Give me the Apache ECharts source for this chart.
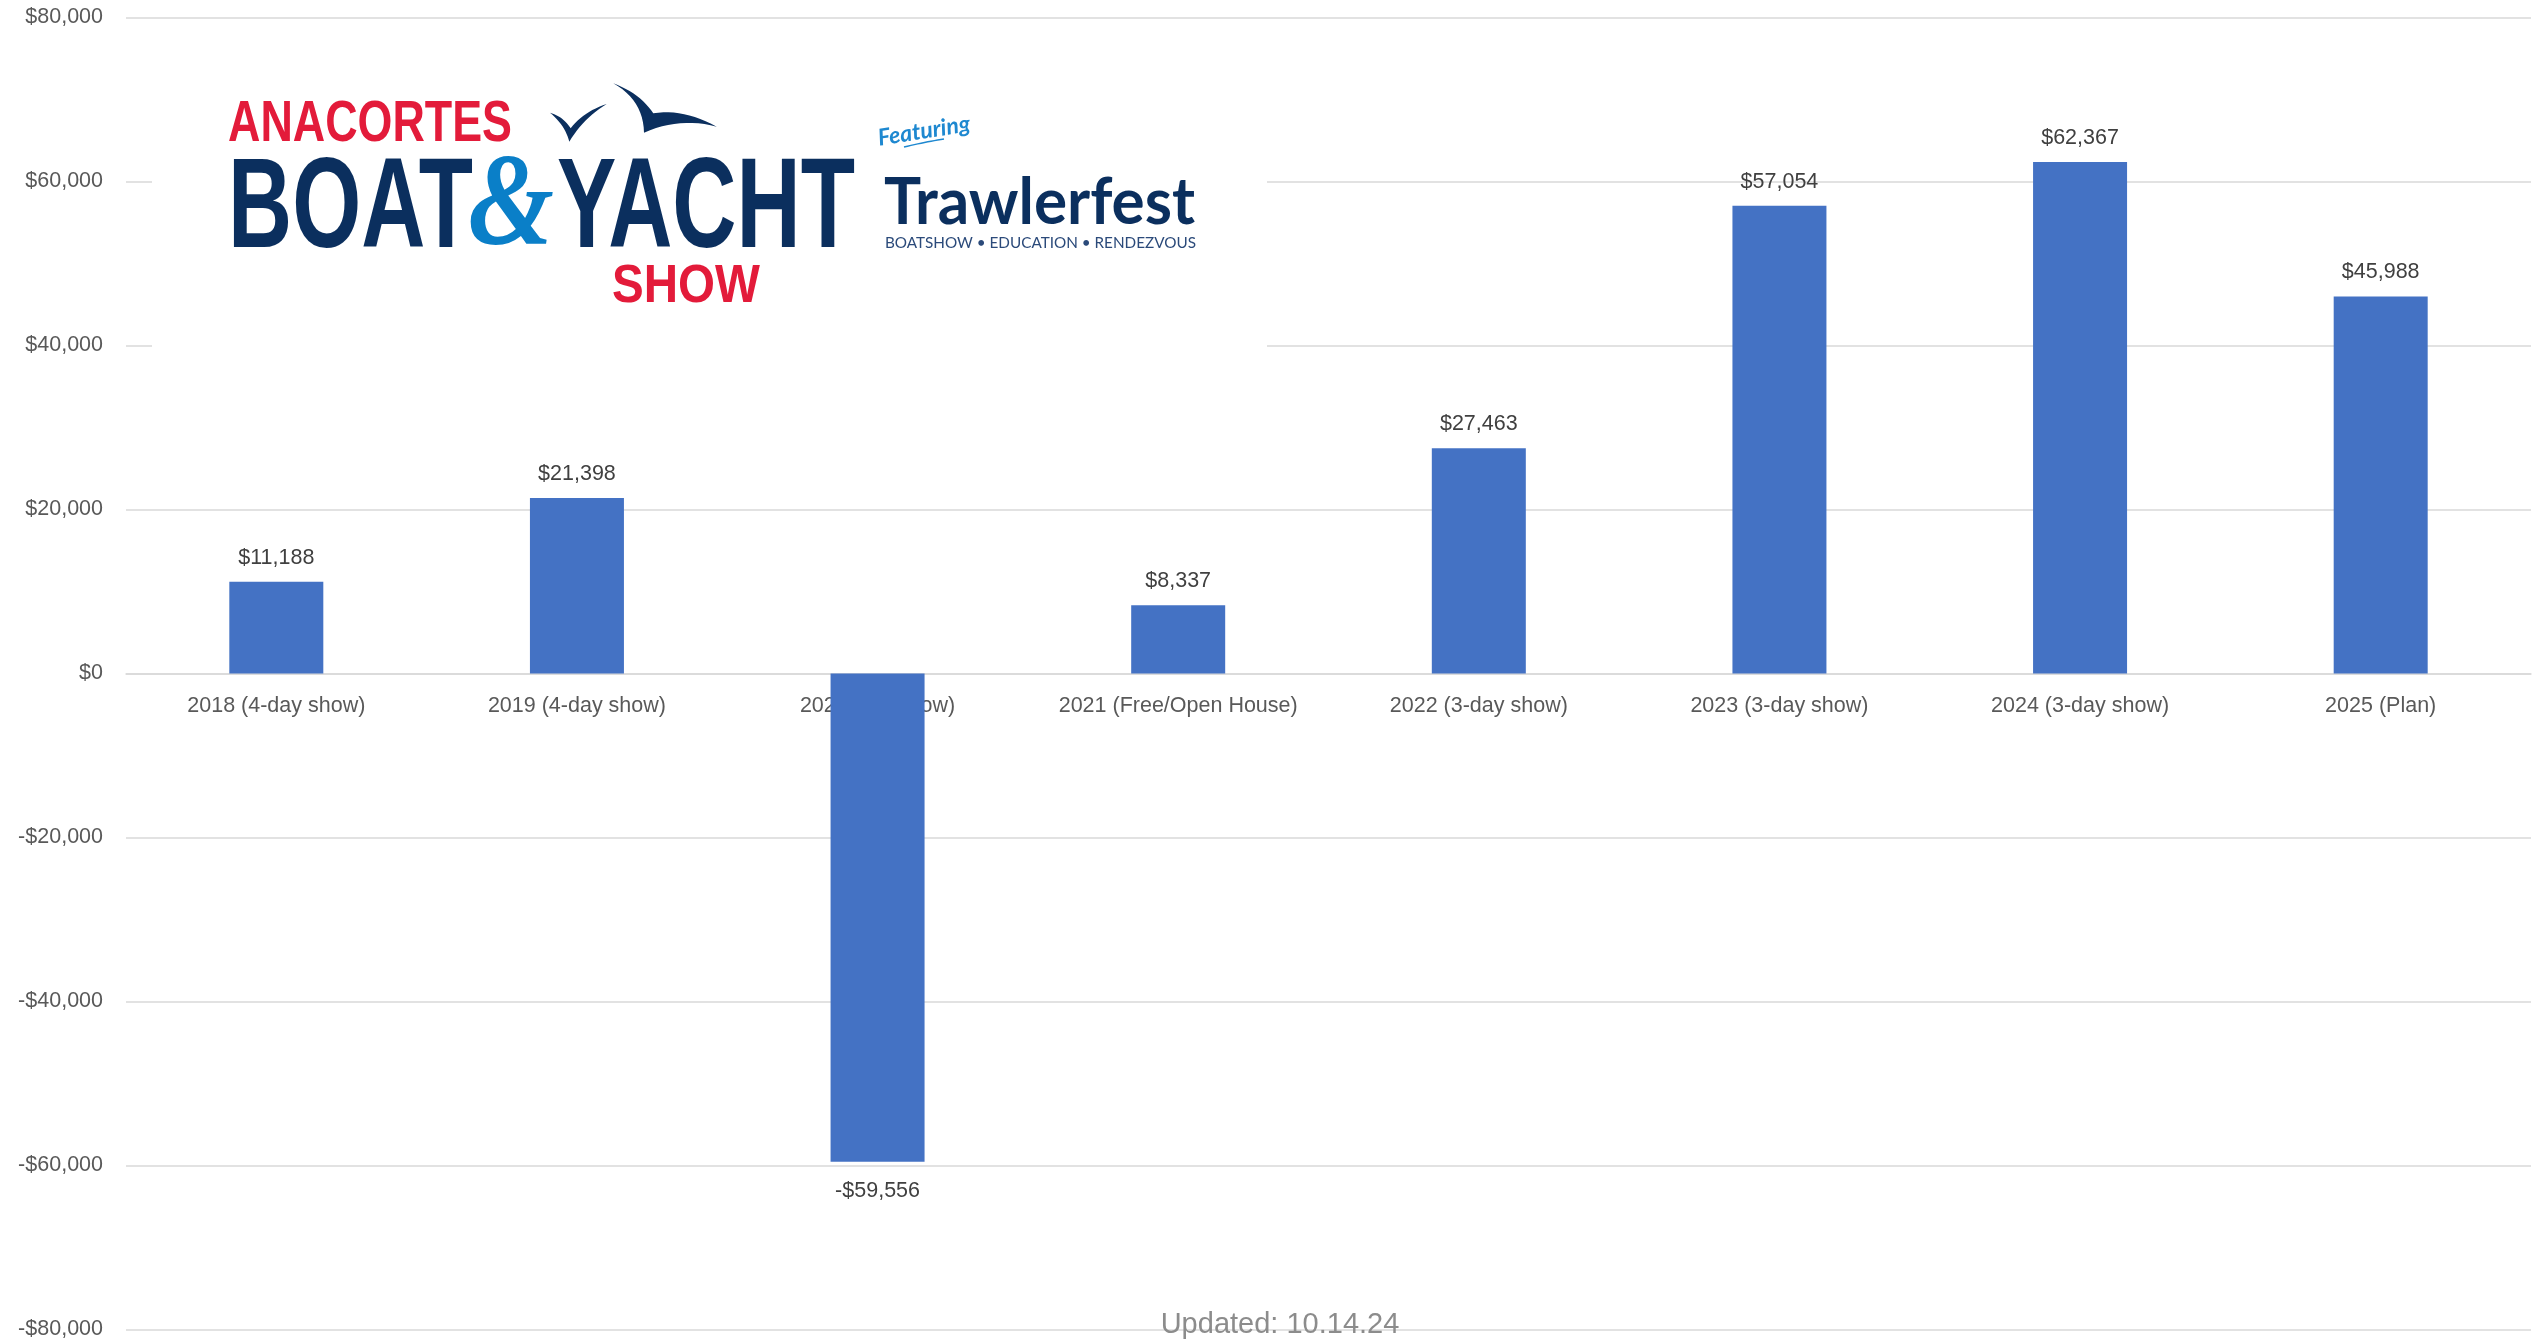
<!DOCTYPE html>
<html><head><meta charset="utf-8">
<script src="https://cdn.jsdelivr.net/npm/echarts@6/dist/echarts.min.js"></script>
<style>html,body{margin:0;padding:0;background:#fff}#chart{width:2539px;height:1341px}</style>
</head><body><div id="chart"></div>
<script>
// ---- data ----
const categories = ['2018 (4-day show)', '2019 (4-day show)', '2020 (No Show)', '2021 (Free/Open House)', '2022 (3-day show)', '2023 (3-day show)', '2024 (3-day show)', '2025 (Plan)'];
const netIncome = [11188, 21398, -59556, 8337, 27463, 57054, 62367, 45988];
const yMin = -80000;
const yMax = 80000;
const yStep = 20000;
const updatedNote = 'Updated: 10.14.24';
const logoWords = ['ANACORTES', 'BOAT', '&', 'YACHT', 'SHOW'];
const featuring = 'Featuring';
const trawlerfest = 'Trawlerfest';
const tagline = 'BOATSHOW \u2022 EDUCATION \u2022 RENDEZVOUS';

// ---- layout ----
const W = 2539, H = 1341;
const GRID = { left: 126, right: 8, top: 17.5, bottom: 11.5 };
const plotH = H - GRID.top - GRID.bottom;
// move the category axis (and its labels) up to the zero line
const zeroOffset = -plotH * (0 - yMin) / (yMax - yMin);

// ---- helpers ----
const FONT = '"Liberation Sans", Arial, sans-serif';
const money = v => (v < 0 ? '-' : '') + '$' + Math.abs(v).toLocaleString('en-US');
const cvs = document.createElement('canvas').getContext('2d');
function measure(text, weight, size, family, style) {
  cvs.font = (style || 'normal') + ' ' + weight + ' ' + size + 'px ' + family;
  return cvs.measureText(text).width;
}
function fitText(text, left, width, cy, size, weight, family, fill, style) {
  const w = measure(text, weight, size, family, style);
  return {
    type: 'text', x: left, y: cy + size * 0.03, scaleX: width / w, z: 20,
    style: { text, fontSize: size, fontWeight: weight, fontFamily: family, fontStyle: style || 'normal',
      fill, align: 'left', verticalAlign: 'middle' }
  };
}
function quadShape(start, segs) {
  const pts = [start];
  let p0 = start;
  segs.forEach(([c, p1]) => {
    for (let i = 1; i <= 12; i++) {
      const t = i / 12, u = 1 - t;
      pts.push([u * u * p0[0] + 2 * u * t * c[0] + t * t * p1[0], u * u * p0[1] + 2 * u * t * c[1] + t * t * p1[1]]);
    }
    p0 = p1;
  });
  return pts;
}

const RED = '#E31B3A', NAVY = '#0B2F5E', BLUE = '#0A7FC8';
const LOGOFONT = '"Liberation Sans Narrow", "Liberation Sans", Arial, sans-serif';

const smallBird = quadShape([550, 112.7], [[[563.3, 116.7], [570.7, 128.3]], [[583.3, 111.7], [606.7, 104]], [[583.3, 118.3], [569.3, 141.7]], [[565, 125], [550, 112.7]]]);
const bigBird = quadShape([613.3, 83.3], [[[640, 93.3], [653.3, 113.3]], [[683.3, 108.3], [716.7, 126.7]], [[680, 116.7], [644, 132.7]], [[643.3, 100], [613.3, 83.3]]]);
const swoosh = quadShape([904, 147], [[[925, 142], [944, 139]]]);

const graphics = [
  { type: 'rect', z: 19, shape: { x: 152, y: 30, width: 1115, height: 330 }, style: { fill: '#ffffff' } },
  fitText(logoWords[0], 228, 284, 124, 56.7, 'bold', LOGOFONT, RED),
  fitText(logoWords[1], 228, 245, 208, 128, 'bold', LOGOFONT, NAVY),
  fitText(logoWords[2], 468, 86, 206, 132, 'bold', '"Liberation Serif", serif', BLUE, 'italic'),
  fitText(logoWords[3], 557, 298, 208, 128, 'bold', LOGOFONT, NAVY),
  fitText(logoWords[4], 612, 148, 285, 54, 'bold', LOGOFONT, RED),
  { type: 'polygon', z: 20, shape: { points: smallBird }, style: { fill: NAVY } },
  { type: 'polygon', z: 20, shape: { points: bigBird }, style: { fill: NAVY } },
  { type: 'text', x: 924, y: 131, rotation: 0.16, z: 20,
    style: { text: featuring, fontSize: 23, fontWeight: 'bold', fontStyle: 'italic', fontFamily: 'Lato, sans-serif', fill: '#1E88D0', align: 'center', verticalAlign: 'middle' } },
  { type: 'polyline', z: 20, shape: { points: swoosh }, style: { stroke: '#1E88D0', lineWidth: 1.5, fill: null } },
  fitText(trawlerfest, 884, 311, 201, 65, 'bold', 'Lato, sans-serif', NAVY),
  fitText(tagline, 885, 311, 243, 15.5, 'normal', 'Lato, sans-serif', '#2B4A7A'),
  { type: 'text', x: 1280, y: 1325, z: 30,
    style: { text: updatedNote, fontSize: 29, fontFamily: FONT, fill: '#8C8C8C', align: 'center', verticalAlign: 'middle' } }
];

const chart = echarts.init(document.getElementById('chart'), null, { renderer: 'canvas' });
chart.setOption({
  animation: false,
  backgroundColor: '#ffffff',
  grid: Object.assign({ containLabel: false, outerBoundsMode: 'none' }, GRID),
  xAxis: {
    type: 'category', data: categories, position: 'bottom', offset: zeroOffset,
    axisLine: { show: true, onZero: false, lineStyle: { color: '#D9D9D9', width: 1.5 } },
    axisTick: { show: false },
    axisLabel: { color: '#595959', fontSize: 21.5, fontFamily: FONT, margin: 22, interval: 0 }
  },
  yAxis: {
    type: 'value', min: yMin, max: yMax, interval: yStep,
    axisLine: { show: false }, axisTick: { show: false },
    splitLine: { lineStyle: { color: '#D9D9D9', width: 1.5 } },
    axisLabel: { color: '#595959', fontSize: 21.5, fontFamily: FONT, margin: 23, padding: [3, 0, 0, 0], formatter: money }
  },
  series: [{
    type: 'bar', barWidth: 94,
    itemStyle: { color: '#4472C4' },
    label: { show: true, color: '#404040', fontSize: 21.5, fontFamily: FONT, formatter: p => money(p.value) },
    data: netIncome.map(v => ({ value: v, label: { position: v < 0 ? 'bottom' : 'top', distance: v < 0 ? 18 : 13 } }))
  }],
  graphic: graphics
});
</script></body></html>
